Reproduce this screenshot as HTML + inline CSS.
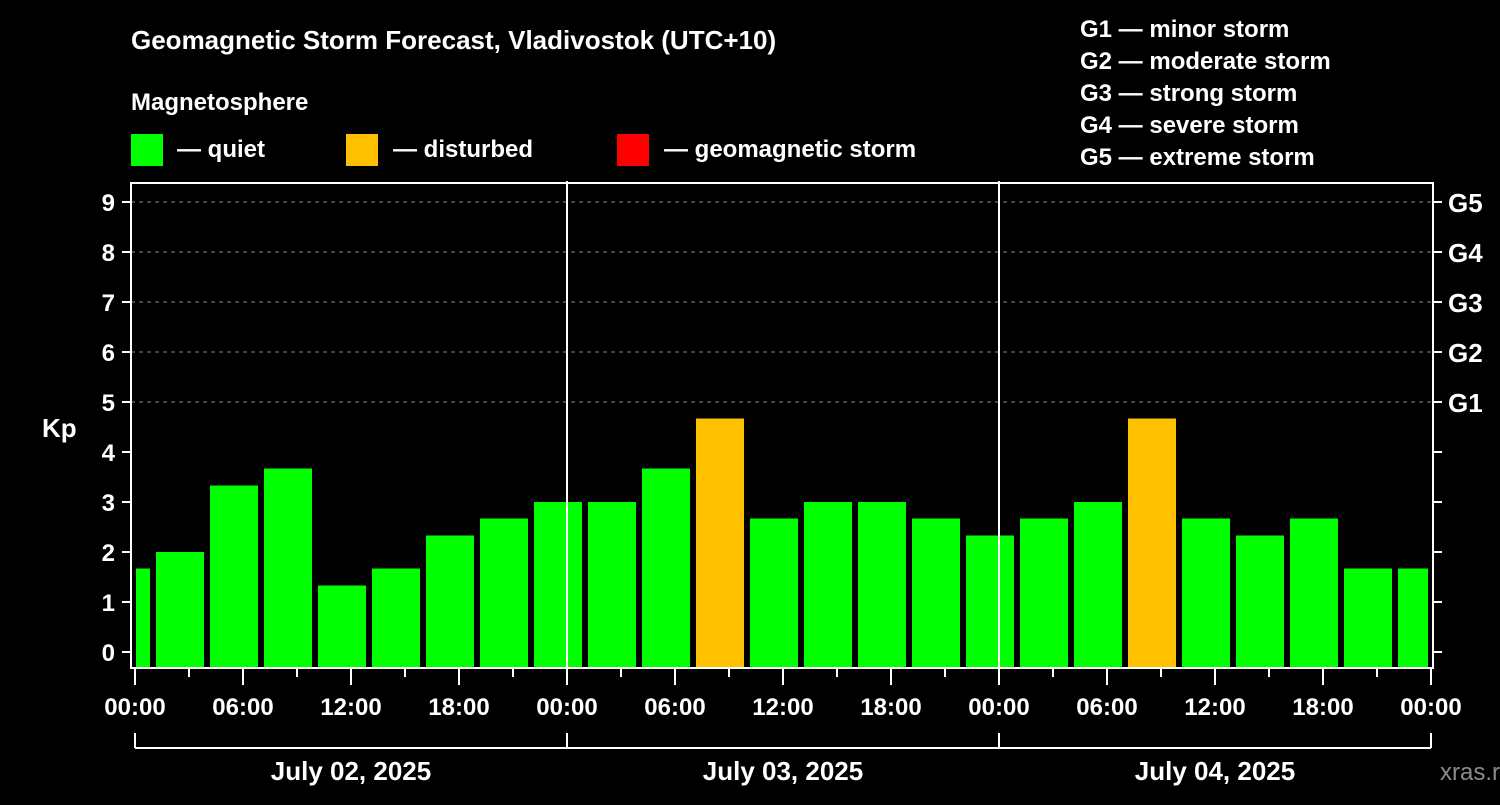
<!DOCTYPE html>
<html><head><meta charset="utf-8"><style>
body{margin:0;background:#000;width:1500px;height:800px;overflow:hidden}
svg text{font-family:"Liberation Sans",sans-serif;font-weight:bold;fill:#fff}
</style></head><body>
<svg id="c" width="1500" height="800">
<text x="131" y="49" font-size="26">Geomagnetic Storm Forecast, Vladivostok (UTC+10)</text>
<text x="131" y="110" font-size="24">Magnetosphere</text>
<g><rect x="131" y="134" width="32" height="32" fill="#00ff00"/><text x="177" y="157" font-size="24">— quiet</text></g>
<g><rect x="346" y="134" width="32" height="32" fill="#ffc000"/><text x="393" y="157" font-size="24">— disturbed</text></g>
<g><rect x="617" y="134" width="32" height="32" fill="#ff0000"/><text x="664" y="157" font-size="24">— geomagnetic storm</text></g>
<g font-size="24">
<text x="1080" y="37">G1 — minor storm</text><text x="1080" y="69">G2 — moderate storm</text><text x="1080" y="101">G3 — strong storm</text><text x="1080" y="133">G4 — severe storm</text><text x="1080" y="165">G5 — extreme storm</text></g>
<text x="42" y="437" font-size="26">Kp</text>
<text x="1440" y="780" font-size="24" fill="#888" style="fill:#8c8c8c;font-weight:normal">xras.ru</text>
<g id="plot"></g>
</svg>
<script>
const kpValues=[1.67,2.0,3.33,3.67,1.33,1.67,2.33,2.67,3.0,3.0,3.67,4.67,2.67,3.0,3.0,2.67,2.33,2.67,3.0,4.67,2.67,2.33,2.67,1.67,1.67];
const binStartHours=[-2,1,4,7,10,13,16,19,22,25,28,31,34,37,40,43,46,49,52,55,58,61,64,67,70];
const xTickLabels=["00:00","06:00","12:00","18:00","00:00","06:00","12:00","18:00","00:00","06:00","12:00","18:00","00:00"];
const dayLabels=["July 02, 2025","July 03, 2025","July 04, 2025"];
const gLabels=["G1","G2","G3","G4","G5"];
const NS="http://www.w3.org/2000/svg";
const g=document.getElementById('plot');
const X=h=>135+h*18, Y=k=>652-k*50;
const L=131,R=1433,T=183,B=668;
function el(t,a,p){const e=document.createElementNS(NS,t);for(const k in a)e.setAttribute(k,a[k]);(p||g).appendChild(e);return e;}
// grid
for(let k=5;k<=9;k++){const e=el('line',{x1:L,x2:R,y1:Y(k),y2:Y(k),stroke:'#888','stroke-dasharray':'4,4','stroke-width':1});

}
// bars
kpValues.forEach((v,i)=>{let x1=Math.max(X(binStartHours[i])+3,136),x2=Math.min(X(binStartHours[i])+51,1428);
const e=el('rect',{x:x1,y:Y(v),width:x2-x1,height:667-Y(v),fill:v>=5?'#ff0000':(v>=4?'#ffc000':'#00ff00')});

});
// day separators
[24,48].forEach(h=>{const e=el('line',{x1:X(h),x2:X(h),y1:T-2,y2:B,stroke:'#fff','stroke-width':2});

});
// frame
const fr=el('rect',{x:L,y:T,width:R-L,height:B-T,fill:'none',stroke:'#fff','stroke-width':2});


// y ticks
for(let k=0;k<=9;k++){el('line',{x1:L-9,x2:L,y1:Y(k),y2:Y(k),stroke:'#fff','stroke-width':2});
el('line',{x1:R,x2:R+9,y1:Y(k),y2:Y(k),stroke:'#fff','stroke-width':2});
const t=el('text',{x:115,y:Y(k)+9,'font-size':24,'text-anchor':'end'});t.textContent=k;

}
gLabels.forEach((s,i)=>{const t=el('text',{x:1448,y:Y(i+5)+10,'font-size':26});t.textContent=s;

});
// x ticks
for(let h=0;h<=72;h+=3){const maj=h%6==0;el('line',{x1:X(h),x2:X(h),y1:B,y2:B+(maj?17:9),stroke:'#fff','stroke-width':2});}
xTickLabels.forEach((s,i)=>{const t=el('text',{x:X(i*6),y:715,'font-size':24,'text-anchor':'middle'});t.textContent=s;

});
// day bracket
el('line',{x1:X(0),x2:X(72),y1:748,y2:748,stroke:'#fff','stroke-width':2});
for(let d=0;d<=3;d++)el('line',{x1:X(d*24),x2:X(d*24),y1:733,y2:748,stroke:'#fff','stroke-width':2});
dayLabels.forEach((s,i)=>{const t=el('text',{x:X(i*24+12),y:780,'font-size':26,'text-anchor':'middle'});t.textContent=s;

});
</script>
</body></html>
